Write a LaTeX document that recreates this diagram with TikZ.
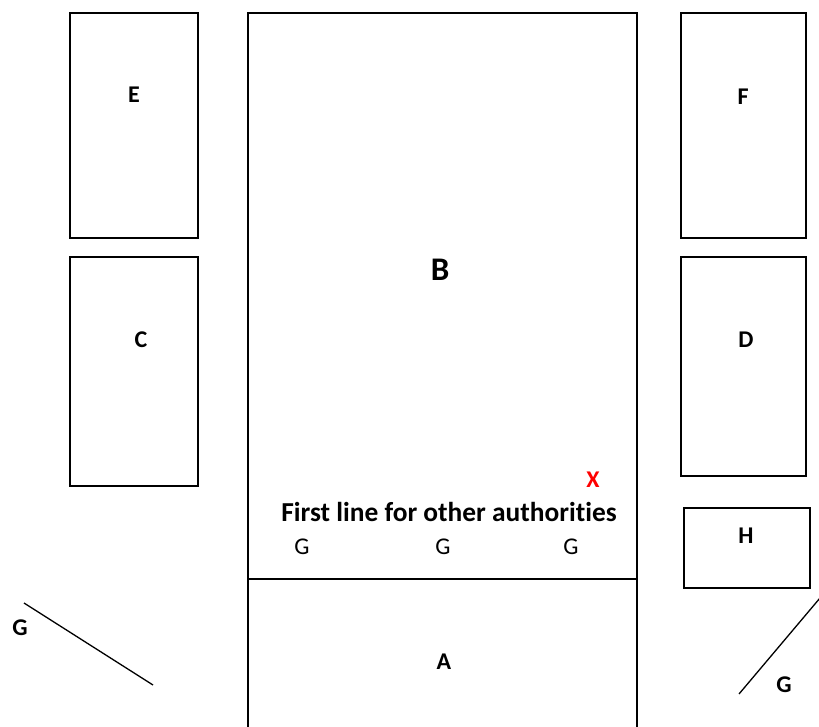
\documentclass[tikz,border=0pt]{standalone}
\usepackage{fontspec}
\setmainfont{Carlito}[Ligatures=NoCommon]
\usepackage{xcolor}

\begin{document}
\begin{tikzpicture}[x=1pt,y=1pt,
  box/.style={draw,line width=1.3pt,inner sep=0pt,outer sep=0pt},
  lbl/.style={font=\fontsize{24}{28}\selectfont\bfseries},
  gtext/.style={font=\fontsize{24}{28}\selectfont}]
\useasboundingbox (0,0) rectangle (819,-727);
% Left column
\node[box,minimum width=128,minimum height=225] (Ebox) at (134,-125.5) {};
\node[lbl] (E) at (134,-95) {E};
\node[box,minimum width=128,minimum height=229] (Cbox) at (134,-371.5) {};
\node[lbl] (C) at (141,-340) {C};
% Middle
\node[box,minimum width=389,minimum height=566] (Bbox) at (442.5,-296) {};
\node[font=\fontsize{33}{36}\selectfont\bfseries] (B) at (440,-270) {B};
\coordinate (Abl) at (248,-730);
\coordinate (Abr) at (637,-730);
\draw[line width=1.3pt] (Bbox.south west) -- (Abl);
\draw[line width=1.3pt] (Bbox.south east) -- (Abr);
\node[lbl] (A) at (444,-662) {A};
\node[lbl,red] (X) at (593,-480) {X};
\node[font=\fontsize{27.4}{30}\selectfont\bfseries] (first) at (449,-512) {First line for other authorities};
\node[gtext] (G1) at (302,-547) {G};
\node[gtext] (G2) at (443,-547) {G};
\node[gtext] (G3) at (571,-547) {G};
% Right column
\node[box,minimum width=125,minimum height=225] (Fbox) at (743.5,-125.5) {};
\node[lbl] (F) at (743,-97) {F};
\node[box,minimum width=125,minimum height=219] (Dbox) at (743.5,-366.5) {};
\node[lbl] (D) at (746,-340) {D};
\node[box,minimum width=126,minimum height=80] (Hbox) at (747,-548) {};
\node[lbl] (H) at (746,-536) {H};
% G lines
\coordinate (gl1) at (24,-603);
\coordinate (gl2) at (153,-685);
\draw[line width=1.3pt] (gl1) -- (gl2);
\node[lbl] (Gleft) at (20,-628) {G};
\coordinate (gr1) at (820,-598);
\coordinate (gr2) at (739,-694);
\draw[line width=1.3pt] (gr1) -- (gr2);
\node[lbl] (Gright) at (784,-685) {G};
\end{tikzpicture}
\end{document}
